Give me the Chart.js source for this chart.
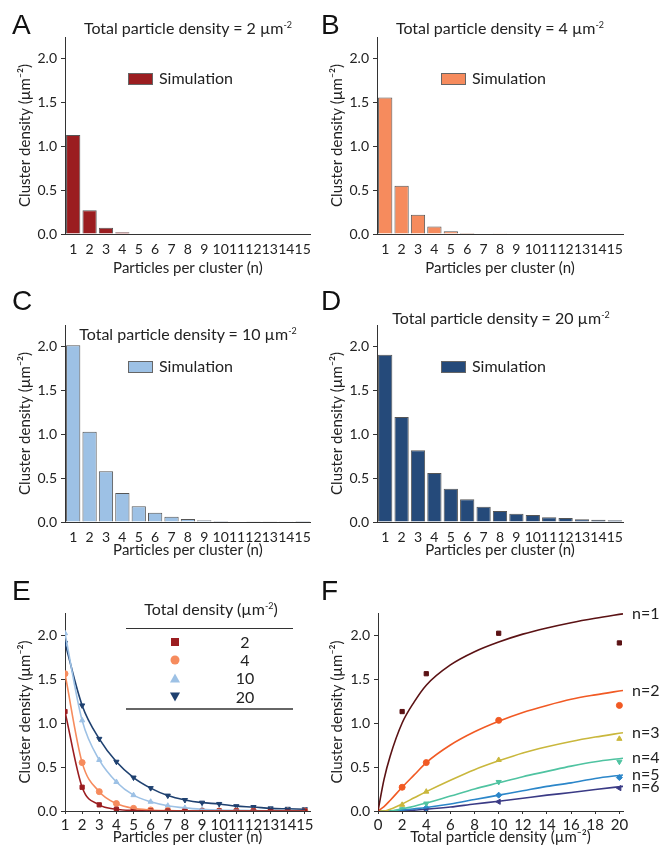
<!DOCTYPE html>
<html>
<head>
<meta charset="utf-8">
<script src="https://cdn.jsdelivr.net/npm/chart.js@4"></script>
<style>
  body{margin:0;background:#fff;font-family:Lato, "Noto Sans", sans-serif;color:#222;}
  #fig{position:relative;width:660px;height:853px;overflow:hidden;}
  canvas{position:absolute;}
  .lbl{position:absolute;font-family:"Liberation Sans", Arial, sans-serif;font-size:28px;line-height:28px;color:#111;}
  .ttl{position:absolute;font-size:16px;white-space:nowrap;transform:translateX(-50%);line-height:16px;}
  sup{font-size:9px;vertical-align:6px;line-height:0;}
  .leg{position:absolute;font-size:16px;line-height:16px;white-space:nowrap;}
  .leg i{display:inline-block;width:23px;height:10px;border:1px solid #666;margin-right:6px;vertical-align:-1px;}
  .hl{position:absolute;height:0;}
  .etxt{position:absolute;font-size:16px;line-height:16px;white-space:nowrap;transform:translate(-50%,-50%);}
  .mk{position:absolute;transform:translate(-50%,-50%);}
</style>
</head>
<body>
<div id="fig">
  <canvas id="cA" width="318" height="285" style="left:0;top:0"></canvas>
  <canvas id="cB" width="342" height="285" style="left:318px;top:0"></canvas>
  <canvas id="cC" width="318" height="285" style="left:0;top:285px"></canvas>
  <canvas id="cD" width="342" height="285" style="left:318px;top:285px"></canvas>
  <canvas id="cE" width="318" height="283" style="left:0;top:570px"></canvas>
  <canvas id="cF" width="342" height="283" style="left:318px;top:570px"></canvas>

  <div class="lbl" style="left:12px;top:11px">A</div>
  <div class="lbl" style="left:321px;top:11px">B</div>
  <div class="lbl" style="left:12px;top:287px">C</div>
  <div class="lbl" style="left:321px;top:287px">D</div>
  <div class="lbl" style="left:12px;top:577px">E</div>
  <div class="lbl" style="left:321px;top:577px">F</div>

  <div class="ttl" style="left:188px;top:20px">Total particle density = 2 µm<sup>-2</sup></div>
  <div class="ttl" style="left:500px;top:20px">Total particle density = 4 µm<sup>-2</sup></div>
  <div class="ttl" style="left:188px;top:326px">Total particle density = 10 µm<sup>-2</sup></div>
  <div class="ttl" style="left:501px;top:310px">Total particle density = 20 µm<sup>-2</sup></div>

  <div class="leg" style="left:128px;top:70px"><i style="background:#9b1d20"></i>Simulation</div>
  <div class="leg" style="left:441px;top:70px"><i style="background:#f68b5d"></i>Simulation</div>
  <div class="leg" style="left:128px;top:358px"><i style="background:#9dc1e5"></i>Simulation</div>
  <div class="leg" style="left:441px;top:358px"><i style="background:#254a7a"></i>Simulation</div>

  <!-- panel E legend table -->
  <div class="etxt" style="left:211px;top:609px">Total density (µm<sup>-2</sup>)</div>
  <div class="hl" style="left:126px;top:628px;width:167px;border-top:1px solid #333"></div>
  <div class="hl" style="left:126px;top:708px;width:167px;border-top:2px solid #666"></div>
  <div class="mk" style="left:175px;top:642px;width:8px;height:8px;background:#9b1d20"></div>
  <div class="mk" style="left:175px;top:660px;width:9px;height:9px;border-radius:50%;background:#f68b5d"></div>
  <div class="mk" style="left:175px;top:678px;width:0;height:0;border-left:5px solid transparent;border-right:5px solid transparent;border-bottom:9px solid #9dc1e5"></div>
  <div class="mk" style="left:175px;top:697px;width:0;height:0;border-left:5px solid transparent;border-right:5px solid transparent;border-top:9px solid #1f4170"></div>
  <div class="etxt" style="left:245px;top:642px">2</div>
  <div class="etxt" style="left:245px;top:660px">4</div>
  <div class="etxt" style="left:245px;top:678px">10</div>
  <div class="etxt" style="left:245px;top:697px">20</div>
</div>

<script>
// cluster sizes n
const clusterSizes = ["1","2","3","4","5","6","7","8","9","10","11","12","13","14","15"];
// simulated cluster density (µm^-2) per total particle density
const sim2  = [1.13, 0.27, 0.07, 0.02, 0.005, 0, 0, 0, 0, 0, 0, 0, 0, 0, 0];
const sim4  = [1.56, 0.55, 0.22, 0.085, 0.03, 0.012, 0.005, 0.002, 0, 0, 0, 0, 0, 0, 0];
const sim10 = [2.02, 1.03, 0.58, 0.33, 0.18, 0.105, 0.06, 0.035, 0.02, 0.011, 0.007, 0.004, 0.003, 0.002, 0.001];
const sim20 = [1.91, 1.20, 0.82, 0.56, 0.38, 0.26, 0.175, 0.125, 0.095, 0.08, 0.055, 0.045, 0.03, 0.025, 0.02];

// panel F: measured points at these total densities
const totalDensities = [2, 4, 10, 20];
const ptsN1 = [1.13, 1.56, 2.02, 1.91];
const ptsN2 = [0.27, 0.55, 1.03, 1.20];
const ptsN3 = [0.07, 0.22, 0.58, 0.82];
const ptsN4 = [0.02, 0.085, 0.33, 0.56];
const ptsN5 = [0.005, 0.035, 0.18, 0.38];
const ptsN6 = [0.0, 0.015, 0.105, 0.26];
// panel F: fitted curves
const fitX   = [0, 0.5, 1, 2, 3, 4, 6, 8, 10, 12, 14, 16, 18, 20.3];
const fitN1  = [0, 0.36, 0.62, 1.0, 1.24, 1.43, 1.66, 1.81, 1.92, 2.01, 2.08, 2.14, 2.19, 2.24];
const fitN2  = [0, 0.05, 0.12, 0.27, 0.41, 0.55, 0.75, 0.90, 1.02, 1.12, 1.20, 1.27, 1.32, 1.37];
const fitN3  = [0, 0, 0.02, 0.08, 0.15, 0.22, 0.35, 0.47, 0.57, 0.66, 0.73, 0.79, 0.84, 0.89];
const fitN4  = [0, 0, 0, 0.025, 0.055, 0.09, 0.17, 0.25, 0.32, 0.39, 0.45, 0.51, 0.56, 0.60];
const fitN5  = [0, 0, 0, 0.01, 0.025, 0.04, 0.08, 0.13, 0.18, 0.23, 0.28, 0.32, 0.37, 0.41];
const fitN6  = [0, 0, 0, 0.005, 0.01, 0.02, 0.045, 0.08, 0.11, 0.145, 0.18, 0.21, 0.245, 0.28];
const fitLabels = ["n=1","n=2","n=3","n=4","n=5","n=6"];

const FONT = "Lato, 'Noto Sans', sans-serif";
const INK = "#222";
const YTITLE = "Cluster density (µm⁻²)";

Chart.defaults.font.family = FONT;
Chart.defaults.color = INK;
Chart.defaults.animation = false;
Chart.defaults.devicePixelRatio = 1;
Chart.defaults.responsive = false;
Chart.defaults.plugins.legend.display = false;
Chart.defaults.plugins.tooltip.enabled = false;

const xy = (xs, ys) => xs.map((x,i)=>({x, y: ys[i]}));

function yAxis(w, titlePad){
  return {
    min: 0, max: 2.25, bounds: "data",
    afterFit: s => { s.width = w; },
    border: {display: true, color: "#333", width: 1},
    grid: {drawOnChartArea: false, drawTicks: true, tickLength: 4, color: "#333"},
    ticks: {stepSize: 0.5, includeBounds: false, padding: 4, font: {size: 14},
            callback: v => v.toFixed(1)},
    title: {display: true, text: YTITLE, font: {size: 15}, padding: {top: titlePad}}
  };
}

function barChart(id, data, color, yW, yTitlePad, padTop, padRight, xH, xTitlePad){
  return new Chart(document.getElementById(id), {
    type: "bar",
    data: {
      labels: clusterSizes,
      datasets: [{data, backgroundColor: color, borderColor: "#555", borderWidth: 1,
                   barPercentage: 0.87, categoryPercentage: 1}]
    },
    options: {
      layout: {padding: {top: padTop, right: padRight, left: 0, bottom: 0}},
      scales: {
        x: {
          afterFit: s => { s.height = xH; },
          border: {display: true, color: "#333", width: 1},
          grid: {display: false, drawTicks: false},
          ticks: {padding: 7, font: {size: 14}, maxRotation: 0, autoSkip: false},
          title: {display: true, text: "Particles per cluster (n)", font: {size: 15}, padding: {bottom: xTitlePad}}
        },
        y: yAxis(yW, yTitlePad)
      }
    }
  });
}

barChart("cA", sim2,  "#9b1d20", 65, 16, 37, 7, 51, 8);
barChart("cB", sim4,  "#f68b5d", 59, 10, 37, 37, 51, 8);
barChart("cC", sim10, "#9dc1e5", 65, 16, 40, 7, 48, 11);
barChart("cD", sim20, "#254a7a", 59, 10, 40, 37, 48, 11);

// panel E: points + fitted curves against n
const nVals = clusterSizes.map(Number);
const eSeries = [
  {d: sim2,  c: "#9b1d20", style: "rect", rot: 0},
  {d: sim4,  c: "#f68b5d", style: "circle", rot: 0},
  {d: sim10, c: "#9dc1e5", style: "triangle", rot: 0},
  {d: sim20, c: "#1f4170", style: "triangle", rot: 180}
];
const eSets = [];
eSeries.forEach(s=>{
  eSets.push({type: "line", data: xy(nVals, s.d), borderColor: s.c, borderWidth: 1.6,
              pointRadius: 0, cubicInterpolationMode: "monotone", fill: false});
});
eSeries.forEach(s=>{
  eSets.push({type: "scatter", data: xy(nVals, s.d), backgroundColor: s.c, borderColor: s.c,
              pointStyle: s.style, rotation: s.rot, pointRadius: 3});
});

new Chart(document.getElementById("cE"), {
  type: "scatter",
  data: {datasets: eSets},
  options: {
    layout: {padding: {top: 43, right: 8, left: 0, bottom: 0}},
    scales: {
      x: {
        type: "linear", min: 1, max: 15.3, bounds: "data",
        afterFit: s => { s.height = 42; },
        border: {display: true, color: "#333", width: 1},
        grid: {drawOnChartArea: false, drawTicks: true, tickLength: 3, color: "#333"},
        ticks: {stepSize: 1, includeBounds: false, padding: 2, font: {size: 15}, maxRotation: 0, autoSkip: false},
        title: {display: true, text: "Particles per cluster (n)", font: {size: 15}, padding: {bottom: 7}}
      },
      y: yAxis(65, 16)
    }
  }
});

// panel F: cluster density vs total density, one fit per n
const fSeries = [
  {pts: ptsN1, fit: fitN1, c: "#5b1214", style: "rect", rot: 0},
  {pts: ptsN2, fit: fitN2, c: "#f15a24", style: "circle", rot: 0},
  {pts: ptsN3, fit: fitN3, c: "#c9b73c", style: "triangle", rot: 0},
  {pts: ptsN4, fit: fitN4, c: "#4fc3a1", style: "triangle", rot: 180},
  {pts: ptsN5, fit: fitN5, c: "#2b86c9", style: "rectRot", rot: 0},
  {pts: ptsN6, fit: fitN6, c: "#3a3a85", style: "triangle", rot: 270}
];
const fSets = [];
fSeries.forEach(s=>{
  fSets.push({type: "line", data: xy(fitX, s.fit), borderColor: s.c, borderWidth: 1.6,
              pointRadius: 0, cubicInterpolationMode: "monotone", fill: false});
});
fSeries.forEach(s=>{
  fSets.push({type: "scatter", data: xy(totalDensities, s.pts), backgroundColor: s.c, borderColor: s.c,
              pointStyle: s.style, rotation: s.rot, pointRadius: 3});
});

// "n=…" labels at the right end of each fitted curve
const endLabels = {
  id: "endLabels",
  afterDraw(chart){
    const {ctx, chartArea, scales} = chart;
    ctx.save();
    ctx.font = "16px " + FONT;
    ctx.fillStyle = INK;
    ctx.textBaseline = "middle";
    fSeries.forEach((s,i)=>{
      const y = scales.y.getPixelForValue(s.fit[s.fit.length-1]);
      ctx.fillText(fitLabels[i], chartArea.right + 9, y);
    });
    ctx.restore();
  }
};

new Chart(document.getElementById("cF"), {
  type: "scatter",
  data: {datasets: fSets},
  options: {
    layout: {padding: {top: 43, right: 37, left: 0, bottom: 0}},
    scales: {
      x: {
        type: "linear", min: 0, max: 20.3, bounds: "data",
        afterFit: s => { s.height = 42; },
        border: {display: true, color: "#333", width: 1},
        grid: {drawOnChartArea: false, drawTicks: true, tickLength: 3, color: "#333"},
        ticks: {stepSize: 2, includeBounds: false, padding: 2, font: {size: 15}, maxRotation: 0, autoSkip: false},
        title: {display: true, text: "Total particle density (µm⁻²)", font: {size: 15}, padding: {bottom: 7}}
      },
      y: yAxis(60, 10)
    }
  },
  plugins: [endLabels]
});
</script>
</body>
</html>
